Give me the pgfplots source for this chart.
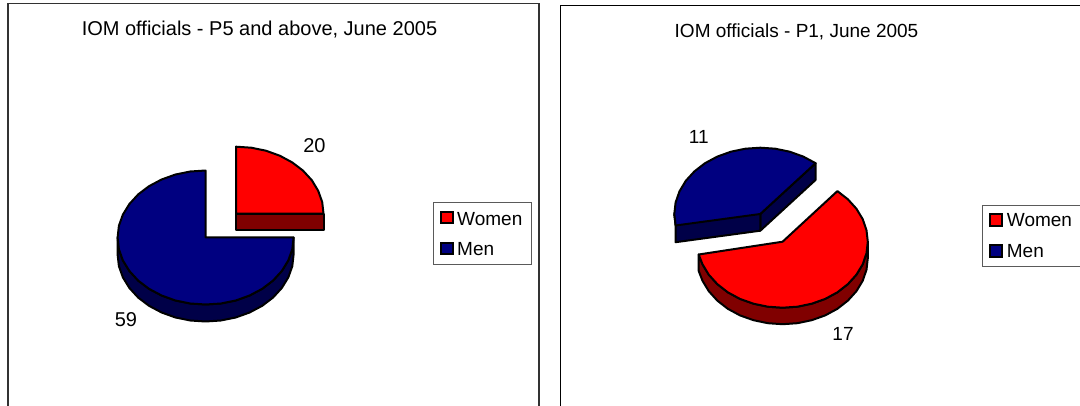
\documentclass[border=0pt]{standalone}
\usepackage{fontspec}
\setmainfont{Liberation Sans}
\usepackage{pgfplots}
\pgfplotsset{compat=1.18}
\definecolor{navy}{RGB}{0,0,128}
\definecolor{navydark}{RGB}{0,0,72}
\definecolor{redtop}{RGB}{255,0,0}
\definecolor{reddark}{RGB}{128,0,0}
\definecolor{framegrey}{RGB}{90,90,90}
\definecolor{framedark}{RGB}{50,50,50}
\pgfplotsset{
  wedge/.style={draw=black,line width=2pt,line join=round},
  swatch/.style={draw=black,line width=2pt,line join=miter},
  frm/.style={draw=framedark,line width=1.8pt},
  frmb/.style={draw=black,line width=1.3pt},
  lgd/.style={draw=framegrey,line width=0.9pt},
}
\tikzset{
  tx/.style={font=\fontsize{19pt}{21pt}\selectfont,inner sep=0pt,text=black},
  txl/.style={font=\fontsize{20pt}{22pt}\selectfont,inner sep=0pt,text=black}}
\begin{document}
\begin{tikzpicture}
\path[use as bounding box] (0,0) rectangle (1080pt,406pt);
\begin{axis}[
  at={(0,0)},anchor=south west,
  scale only axis,width=1080pt,height=406pt,
  xmin=0,xmax=1080,ymin=0,ymax=406,y dir=reverse,
  hide axis,no markers,clip=true]
% frames
\addplot[frm] coordinates {(8.3,406)(8.3,3.5)(538.7,3.5)(538.7,406)};
\addplot[frmb] coordinates {(560.7,406)(560.7,5.5)(1080,5.5)};
% left: Men (59)
\addplot[wedge,fill=navydark] coordinates {(117.6,237.5)(118.9,249.2)(122.9,260.4)(129.4,271)(138.2,280.6)(149,288.8)(161.6,295.5)(175.5,300.5)(190.3,303.5)(205.6,304.5)(220.9,303.5)(235.7,300.5)(249.6,295.5)(262.2,288.8)(273,280.6)(281.8,271)(288.3,260.4)(292.3,249.2)(293.6,237.5)(293.6,254.5)(292.3,266.2)(288.3,277.4)(281.8,288)(273,297.6)(262.2,305.8)(249.6,312.5)(235.7,317.5)(220.9,320.5)(205.6,321.5)(190.3,320.5)(175.5,317.5)(161.6,312.5)(149,305.8)(138.2,297.6)(129.4,288)(122.9,277.4)(118.9,266.2)(117.6,254.5)} --cycle;
\addplot[wedge,fill=navy] coordinates {(205.6,237.5)(205.6,170.5)(190.3,171.5)(175.5,174.5)(161.6,179.5)(149,186.2)(138.2,194.4)(129.4,204)(122.9,214.6)(118.9,225.8)(117.6,237.5)(118.9,249.2)(122.9,260.4)(129.4,271)(138.2,280.6)(149,288.8)(161.6,295.5)(175.5,300.5)(190.3,303.5)(205.6,304.5)(220.9,303.5)(235.7,300.5)(249.6,295.5)(262.2,288.8)(273,280.6)(281.8,271)(288.3,260.4)(292.3,249.2)(293.6,237.5)} --cycle;
% left: Women (20)
\addplot[wedge,fill=reddark] coordinates {(236,213.7)(323.5,213.7)(323.5,230.4)(236,230.4)} --cycle;
\addplot[wedge,fill=redtop] coordinates {(236,213.7)(236,146.7)(251.2,147.7)(265.9,150.7)(279.8,155.7)(292.2,162.4)(303,170.6)(311.8,180.2)(318.2,190.8)(322.2,202)(323.5,213.7)} --cycle;
% right: Women (17)
\addplot[wedge,fill=reddark] coordinates {(867.8,241.7)(866.5,253.2)(862.7,264.3)(856.4,274.7)(847.9,284.1)(837.4,292.3)(825.2,298.9)(811.7,303.7)(797.4,306.7)(782.6,307.7)(767.8,306.7)(753.5,303.7)(740,298.9)(727.8,292.3)(717.3,284.1)(708.8,274.7)(702.5,264.3)(698.7,254.5)(698.7,271)(702.5,280.8)(708.8,291.2)(717.3,300.6)(727.8,308.8)(740,315.4)(753.5,320.2)(767.8,323.2)(782.6,324.2)(797.4,323.2)(811.7,320.2)(825.2,315.4)(837.4,308.8)(847.9,300.6)(856.4,291.2)(862.7,280.8)(866.5,269.7)(867.8,258.2)} --cycle;
\addplot[wedge,fill=redtop] coordinates {(782.6,241.7)(837.4,191.1)(847.9,199.3)(856.4,208.7)(862.7,219.1)(866.5,230.2)(867.8,241.7)(866.5,253.2)(862.7,264.3)(856.4,274.7)(847.9,284.1)(837.4,292.3)(825.2,298.9)(811.7,303.7)(797.4,306.7)(782.6,307.7)(767.8,306.7)(753.5,303.7)(740,298.9)(727.8,292.3)(717.3,284.1)(708.8,274.7)(702.5,264.3)(698.7,254.5)} --cycle;
% right: Men (11)
\addplot[wedge,fill=navydark] coordinates {(760.3,214)(815.6,163.2)(815.6,179.9)(760.3,230.7)} --cycle;
\addplot[wedge,fill=navydark] coordinates {(760.3,214)(674.3,214)(675.6,225.5)(675.6,242.2)(760.3,230.7)} --cycle;
\addplot[wedge,fill=navy] coordinates {(760.3,214)(815.6,163.2)(803.3,156.6)(789.7,151.7)(775.2,148.7)(760.3,147.7)(745.4,148.7)(730.9,151.7)(717.3,156.6)(705,163.2)(694.4,171.4)(685.8,180.8)(679.5,191.3)(675.6,202.5)(674.3,214)(675.6,225.5)} --cycle;
% legends
\addplot[lgd,fill=white] coordinates {(433.3,202.7)(531,202.7)(531,264)(433.3,264)} --cycle;
\addplot[swatch,fill=redtop] coordinates {(441,212.5)(452.5,212.5)(452.5,223.5)(441,223.5)} --cycle;
\addplot[swatch,fill=navy] coordinates {(441,243)(452.5,243)(452.5,254.5)(441,254.5)} --cycle;
\addplot[lgd,fill=white] coordinates {(982.7,205.3)(1084,205.3)(1084,266.7)(982.7,266.7)} --cycle;
\addplot[swatch,fill=redtop] coordinates {(990.3,214.3)(1002.3,214.3)(1002.3,225.7)(990.3,225.7)} --cycle;
\addplot[swatch,fill=navy] coordinates {(990.3,245.2)(1002.3,245.2)(1002.3,257.2)(990.3,257.2)} --cycle;
% text
\node[txl] at (axis cs:259.5,30) {IOM officials - P5 and above, June 2005};
\node[tx] at (axis cs:796.5,31.5) {IOM officials - P1, June 2005};
\node[txl] at (axis cs:314.4,146) {20};
\node[txl] at (axis cs:126,320) {59};
\node[tx] at (axis cs:698.7,137) {11};
\node[tx] at (axis cs:843,333.5) {17};
\node[tx,anchor=west] at (axis cs:457,219) {Women};
\node[tx,anchor=west] at (axis cs:457,249.3) {Men};
\node[tx,anchor=west] at (axis cs:1006.7,220) {Women};
\node[tx,anchor=west] at (axis cs:1006.7,251.5) {Men};
\end{axis}
\end{tikzpicture}
\end{document}
